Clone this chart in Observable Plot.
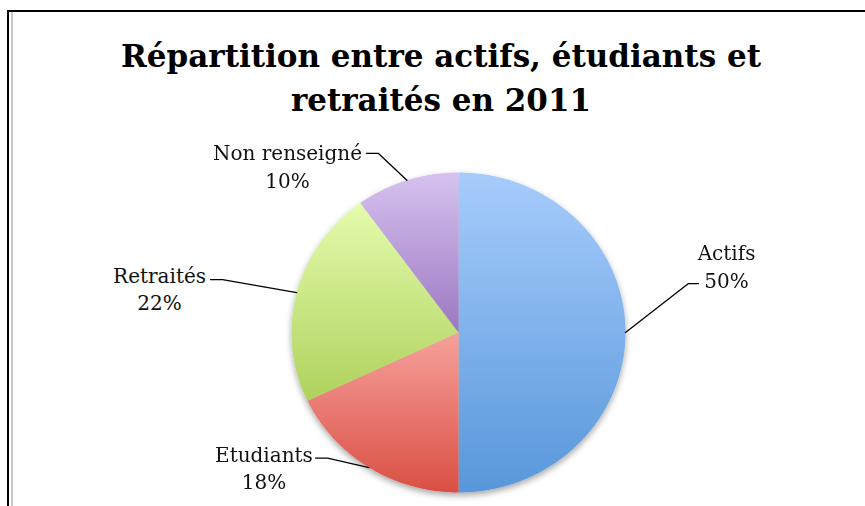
<!DOCTYPE html>
<html>
<head>
<meta charset="utf-8">
<script src="https://cdn.jsdelivr.net/npm/d3@7"></script>
<script src="https://cdn.jsdelivr.net/npm/@observablehq/plot@0.6"></script>
<style>
  html, body { margin: 0; padding: 0; background: #fff; }
  #wrap { position: relative; width: 865px; height: 506px; overflow: hidden; background: #fff; }
  #frameTop { position: absolute; left: 7px; top: 10px; right: 0; height: 2px; background: #000; }
  #frameLeft { position: absolute; left: 7px; top: 10px; bottom: 0; width: 2px; background: #000; }
  #frameInner { position: absolute; left: 11px; top: 12px; bottom: 0; width: 2px; background: #c8c8c8; }
  #title { position: absolute; left: 0; top: 34px; width: 882px; text-align: center;
           font-family: "DejaVu Serif", serif; font-weight: bold; font-size: 31px; line-height: 44px; color: #000; }
  #chart { position: absolute; left: 0; top: 0; }
</style>
</head>
<body>
<div id="wrap">
  <div id="chart"></div>
  <div id="frameTop"></div>
  <div id="frameLeft"></div>
  <div id="frameInner"></div>
  <div id="title">Répartition entre actifs, étudiants et<br>retraités en 2011</div>
</div>
<script>
// ---- data ----
const categories = ["Actifs", "Etudiants", "Retraités", "Non renseigné"];
const percents = [50, 18, 22, 10];

// ---- styles ----
const topColors = ["#a7ccfc", "#f6a19c", "#e5fbae", "#d6c2f0"];
const bottomColors = ["#5897da", "#da4f44", "#afd25c", "#9b77c0"];

// ---- label layout (pie-radius units, y up) ----
const labelLayout = {
  "Actifs":        {tx: 1.605,  ty: 0.421,  ex: 1.437,  ey: 0.306, bx: 1.377,  by: 0.306},
  "Etudiants":     {tx: -1.165, ty: -0.838, ex: -0.856, ey: -0.785, bx: -0.784, by: -0.785},
  "Retraités":     {tx: -1.790, ty: 0.281,  ex: -1.485, ey: 0.331, bx: -1.413, by: 0.331},
  "Non renseigné": {tx: -1.024, ty: 1.046,  ex: -0.551, ey: 1.119, bx: -0.479, by: 1.119}
};

const arcs = d3.pie().sort(null).value(d => d)(percents);

const marks = [];
arcs.forEach((a, i) => {
  const pts = [{x: 0, y: 0}];
  const n = Math.max(2, Math.ceil((a.endAngle - a.startAngle) / 0.01));
  for (let k = 0; k <= n; k++) {
    const t = a.startAngle + (a.endAngle - a.startAngle) * k / n;
    pts.push({x: Math.sin(t), y: Math.cos(t)});
  }
  pts.push({x: 0, y: 0});
  marks.push(Plot.line(pts, {x: "x", y: "y", fill: `url(#grad${i})`, stroke: "none", curve: "linear"}));
});

const leaders = [];
const labels = [];
arcs.forEach((a, i) => {
  const cat = categories[i];
  const L = labelLayout[cat];
  const mid = (a.startAngle + a.endAngle) / 2;
  leaders.push({cat, x: Math.sin(mid), y: Math.cos(mid)});
  leaders.push({cat, x: L.bx, y: L.by});
  leaders.push({cat, x: L.ex, y: L.ey});
  labels.push({x: L.tx, y: L.ty, text: `${cat}\n${percents[i]}%`});
});

marks.push(Plot.line(leaders, {x: "x", y: "y", z: "cat", stroke: "#000", strokeWidth: 1.3}));
marks.push(Plot.text(labels, {x: "x", y: "y", text: "text", fontSize: 20, fontFamily: "DejaVu Serif",
  lineHeight: 1.375, lineAnchor: "middle", textAnchor: "middle", fill: "#111"}));

const svg = Plot.plot({
  width: 865, height: 506,
  marginTop: 0, marginRight: 0, marginBottom: 0, marginLeft: 0,
  x: {domain: [-1, 1], range: [291, 625], axis: null},
  y: {domain: [-1, 1], range: [492, 172], axis: null},
  style: {background: "transparent", overflow: "visible"},
  marks
});

// gradients + shadow
const ns = "http://www.w3.org/2000/svg";
const defs = document.createElementNS(ns, "defs");
topColors.forEach((c, i) => {
  const g = document.createElementNS(ns, "linearGradient");
  g.setAttribute("id", `grad${i}`);
  g.setAttribute("x1", "0"); g.setAttribute("y1", "0");
  g.setAttribute("x2", "0"); g.setAttribute("y2", "1");
  const s1 = document.createElementNS(ns, "stop");
  s1.setAttribute("offset", "0"); s1.setAttribute("stop-color", c);
  const s2 = document.createElementNS(ns, "stop");
  s2.setAttribute("offset", "1"); s2.setAttribute("stop-color", bottomColors[i]);
  g.appendChild(s1); g.appendChild(s2);
  defs.appendChild(g);
});
const filt = document.createElementNS(ns, "filter");
filt.setAttribute("id", "pieShadow");
filt.setAttribute("x", "-10%"); filt.setAttribute("y", "-10%");
filt.setAttribute("width", "120%"); filt.setAttribute("height", "125%");
const ds = document.createElementNS(ns, "feDropShadow");
ds.setAttribute("dx", "0"); ds.setAttribute("dy", "3");
ds.setAttribute("stdDeviation", "3"); ds.setAttribute("flood-color", "#000");
ds.setAttribute("flood-opacity", "0.35");
filt.appendChild(ds);
defs.appendChild(filt);
svg.insertBefore(defs, svg.firstChild);

const sliceGroups = Array.from(svg.querySelectorAll('g[aria-label="line"]')).slice(0, categories.length);
const pieG = document.createElementNS(ns, "g");
pieG.setAttribute("filter", "url(#pieShadow)");
sliceGroups[0].parentNode.insertBefore(pieG, sliceGroups[0]);
sliceGroups.forEach(g => pieG.appendChild(g));

document.getElementById("chart").appendChild(svg);
</script>
</body>
</html>
